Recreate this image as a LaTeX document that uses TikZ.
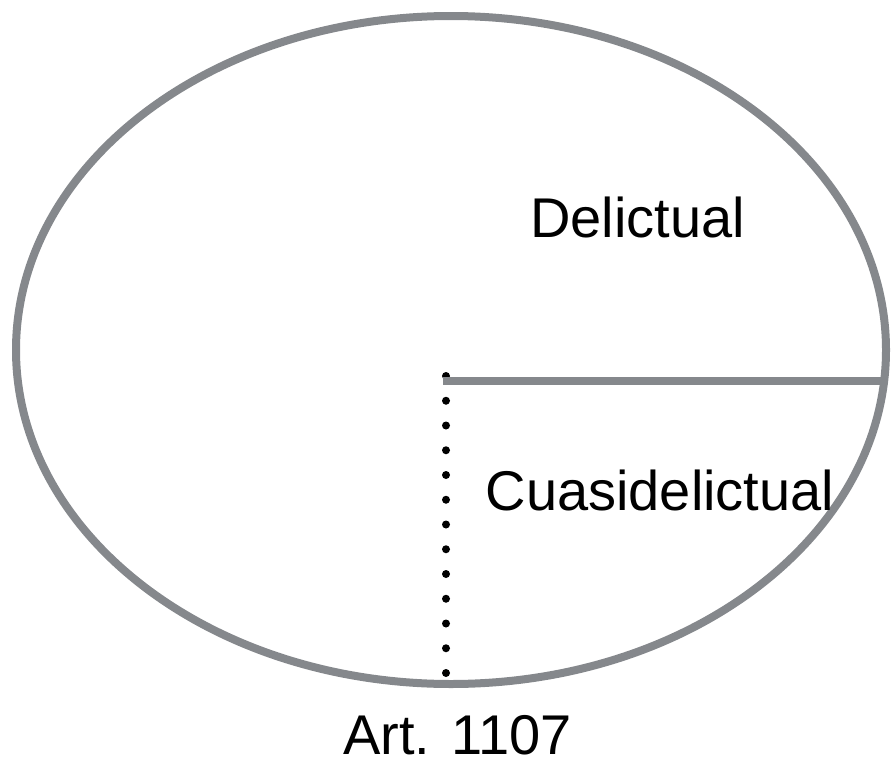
\documentclass[tikz,border=0pt]{standalone}
\usepackage{fontspec}
\setmainfont{Liberation Sans}
\definecolor{aro}{HTML}{85888C}
\begin{document}
\begin{tikzpicture}[x=0.5pt,y=-0.5pt,
  borde/.style={draw=aro,line width=4pt},
  puntos/.style={line width=4pt,line cap=round,dash pattern=on 0pt off 12.375pt},
  etiqueta/.style={anchor=base,inner sep=0pt,font=\fontsize{28}{32}\selectfont}]
\useasboundingbox (0,0) rectangle (893,760);
\draw[borde] (451,350) ellipse [x radius=217.5pt, y radius=167pt];
\coordinate (centro) at (446,376);
\coordinate (fin) at (882,380.5);
\coordinate (abajo) at (446,673);
\draw[puntos] (centro) -- (abajo);
\draw[borde] (443,380.5) -- (fin);
\node[etiqueta] (delictual) at (637.5,237) {Delictual};
\node[etiqueta] (cuasi) at (660,510) {Cuasidelictual};
\node[etiqueta] (art) at (457.5,754) {Art. 1107};
\end{tikzpicture}
\end{document}
